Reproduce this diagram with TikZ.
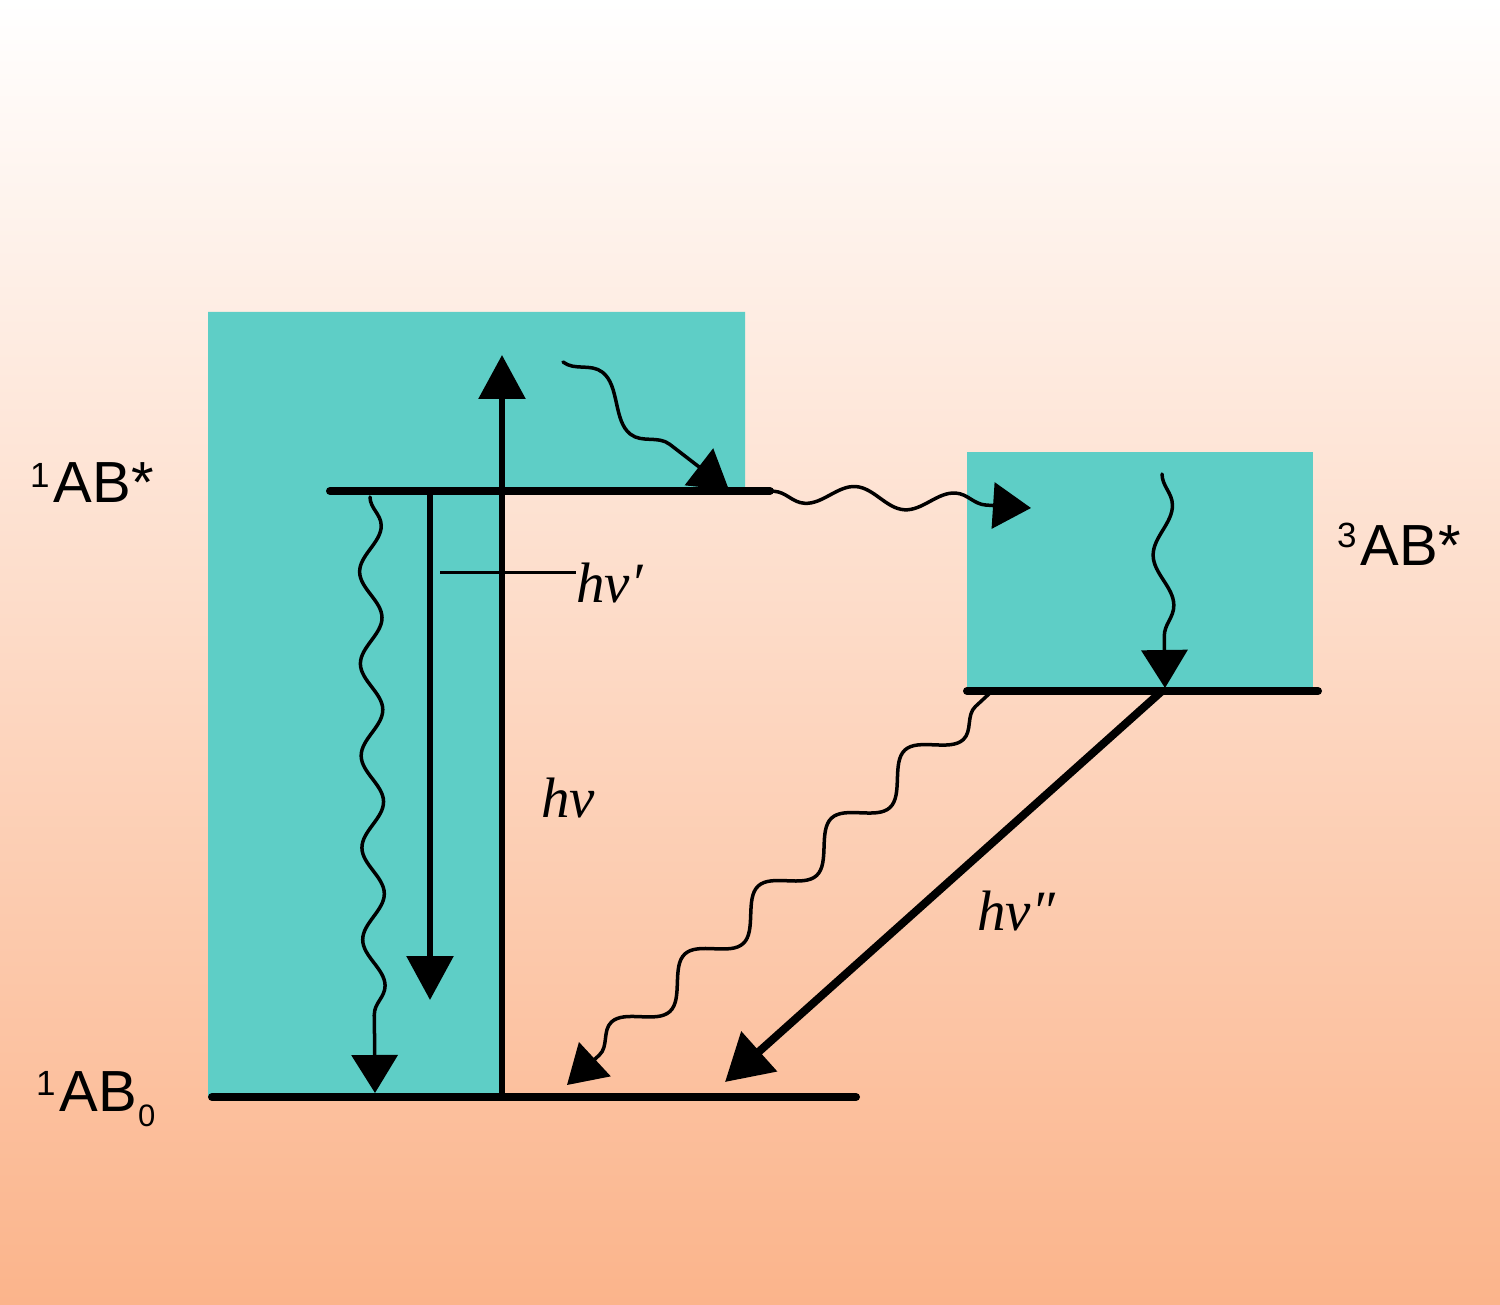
\documentclass[tikz,border=0pt]{standalone}
\usepackage{fontspec}
\setmainfont{Liberation Sans}
\newfontfamily\nufont{Liberation Serif}
\usetikzlibrary{arrows.meta,decorations.pathmorphing,calc}
\definecolor{boxteal}{RGB}{94,206,198}
\definecolor{peachmid}{RGB}{253,219,197}
\definecolor{peachlow}{RGB}{251,180,139}
\newcommand{\up}[2]{{\fontsize{35}{35}\selectfont\raisebox{#1pt}{#2}\kern4pt}}
\newcommand{\dn}[1]{{\fontsize{31}{31}\selectfont\kern1pt\raisebox{-15pt}{#1}}}

\begin{document}
\begin{tikzpicture}[
  x=1pt, y=-1pt,
  statelab/.style={anchor=base west, inner sep=0pt, font=\fontsize{58}{60}\selectfont},
  nulab/.style={anchor=base west, inner sep=0pt, font=\nufont\itshape\fontsize{57}{60}\selectfont},
  level/.style={line width=8pt, line cap=round},
  photon/.style={line width=6pt, -{Triangle[width=46pt,length=44pt]}},
  wave/.style={line width=3.5pt, line cap=round, decorate,
    decoration={snake, amplitude=#1, segment length=92pt, post length=38pt},
    -{Triangle[width=46pt,length=38pt]}}
]
\useasboundingbox (0,0) rectangle (1500,1305);
\shade[top color=white, middle color=peachmid, bottom color=peachlow] (0,0) rectangle (1500,1305);

% excited state blocks
\fill[boxteal] (208,312) -- (745,312) -- (745,491) -- (500,491) -- (500,1097) -- (208,1097) -- cycle;
\fill[boxteal] (967,452) rectangle (1313,691);

% levels
\coordinate (s1l) at (330,491);
\coordinate (s1r) at (770,491);
\coordinate (t1l) at (967,691);
\coordinate (t1r) at (1318,691);
\coordinate (s0l) at (212,1097);
\coordinate (s0r) at (856,1097);
\draw[level] (s1l) -- (s1r);
\draw[level] (t1l) -- (t1r);
\draw[level] (s0l) -- (s0r);

\node[statelab] (s1) at (30,503) {\up{16}{1}AB*};
\node[statelab] (t1) at (1337,565) {\up{18}{3}AB*};
\node[statelab] (s0) at (36,1111) {\up{16}{1}AB\dn{0}};

% radiative
\coordinate (absb) at (502,1097);
\coordinate (abst) at (502,355);
\draw[photon] (absb) -- (abst);
\node[nulab] (abs) at (541,817) {hν};

\coordinate (flt) at (430,491);
\coordinate (flb) at (430,1000);
\draw[photon] (flt) -- (flb);
\coordinate (tick) at (440,572);
\node[nulab] (fl) at (576,602) {hν′};
\draw[line width=3pt] (tick) -- (fl.west |- tick);

\coordinate (phs) at (1162,691);
\coordinate (phe) at (725,1082);
\draw[photon, line width=8pt, -{Triangle[width=52pt,length=46pt]}] (phs) -- (phe);
\node[nulab] (ph) at (977,930) {hν″};

% non-radiative
\draw[wave=11pt] (370,497) -- (375,1093);
\draw[wave=16pt, decoration={segment length=120pt}] (563,362) -- (729,490);
\draw[wave=10pt, decoration={mirror, segment length=100pt, pre length=4pt}] (s1r) -- (1031,508);
\draw[wave=10pt, decoration={segment length=100pt}] (1162,474) -- (1165,688);
\draw[wave=16pt, decoration={segment length=100pt, pre length=20pt}] (990,693) -- (567,1085);
\end{tikzpicture}
\end{document}
